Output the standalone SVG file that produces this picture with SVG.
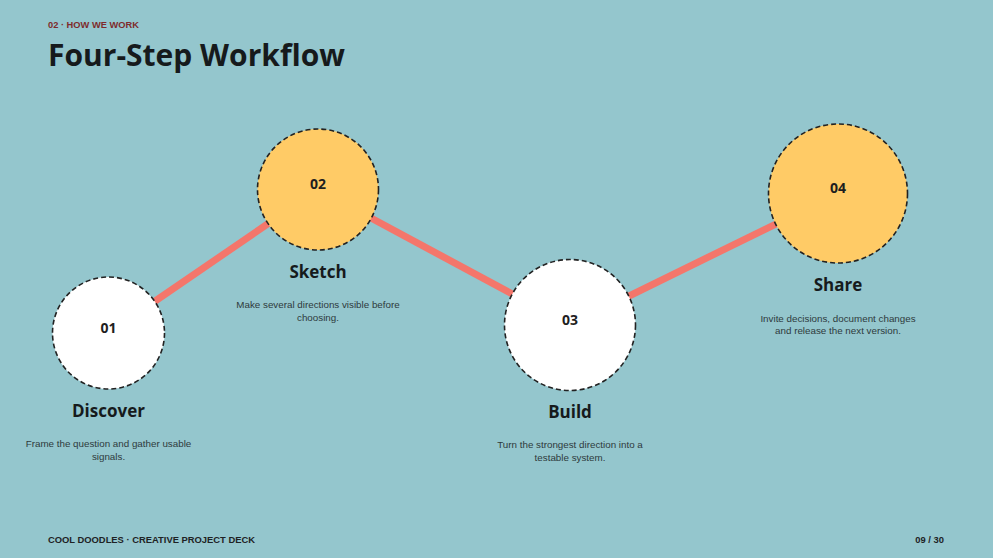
<svg xmlns="http://www.w3.org/2000/svg" width="993" height="558" viewBox="0 0 993 558">
<style>
.bg{fill:#94C6CD}
.kicker{font-family:"Liberation Sans",Arial,sans-serif;font-weight:700;font-size:9.3px;fill:#7E2B2B}
.title{font-family:"Open Sans",sans-serif;font-weight:700;font-size:30px;fill:#161A1C}
.node-c{stroke:#222;stroke-width:1.6;stroke-dasharray:5 3}
.white{fill:#FFFFFF}
.yellow{fill:#FFCB66}
.num{font-family:"Open Sans",sans-serif;font-weight:700;font-size:14px;fill:#1E1E1E;text-anchor:middle}
.label{font-family:"Open Sans",sans-serif;font-weight:700;font-size:17px;fill:#161A1C;text-anchor:middle}
.desc{font-family:"Liberation Sans",Arial,sans-serif;font-size:9.8px;fill:#2E3A3C;text-anchor:middle}
.link{stroke:#F4766B;stroke-width:7;fill:none}
.foot{font-family:"Liberation Sans",Arial,sans-serif;font-weight:700;font-size:9.4px;fill:#1E2224}
</style>
<rect class="bg" x="0" y="0" width="993" height="558"/>
<text class="kicker" x="48" y="28">02 · HOW WE WORK</text>
<text class="title" x="48" y="66">Four-Step Workflow</text>
<g id="connectors">
<line class="link" x1="108.5" y1="333" x2="318" y2="189.5"/>
<line class="link" x1="318" y1="189.5" x2="570" y2="325"/>
<line class="link" x1="570" y1="325" x2="838" y2="193.5"/>
</g>
<g id="node-01">
<circle class="node-c white" cx="108.5" cy="333" r="56"/>
<text class="num" x="108.5" y="333">01</text>
<text class="label" x="108.5" y="417">Discover</text>
<text class="desc" x="108.5" y="446.5">Frame the question and gather usable</text>
<text class="desc" x="108.5" y="459.5">signals.</text>
</g>
<g id="node-02">
<circle class="node-c yellow" cx="318" cy="189.5" r="60.5"/>
<text class="num" x="318" y="189">02</text>
<text class="label" x="318" y="278">Sketch</text>
<text class="desc" x="318" y="307.5">Make several directions visible before</text>
<text class="desc" x="318" y="320.5">choosing.</text>
</g>
<g id="node-03">
<circle class="node-c white" cx="570" cy="325" r="65.5"/>
<text class="num" x="570" y="325">03</text>
<text class="label" x="570" y="418">Build</text>
<text class="desc" x="570" y="447.5">Turn the strongest direction into a</text>
<text class="desc" x="570" y="460.5">testable system.</text>
</g>
<g id="node-04">
<circle class="node-c yellow" cx="838" cy="193.5" r="69.5"/>
<text class="num" x="838" y="193">04</text>
<text class="label" x="838" y="291">Share</text>
<text class="desc" x="838" y="321.5">Invite decisions, document changes</text>
<text class="desc" x="838" y="333.5">and release the next version.</text>
</g>
<text class="foot" x="48" y="543">COOL DOODLES · CREATIVE PROJECT DECK</text>
<text class="foot" x="944" y="543" text-anchor="end">09 / 30</text>
</svg>
